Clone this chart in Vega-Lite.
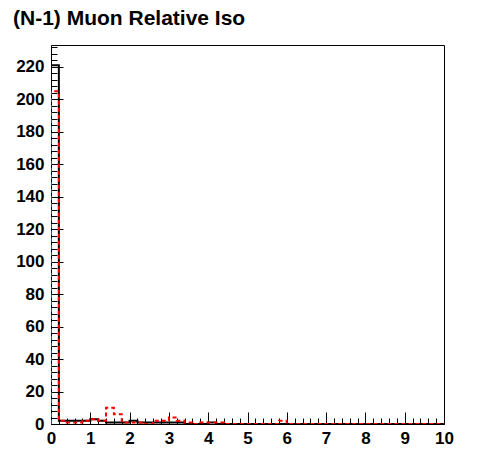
{
  "$schema": "https://vega.github.io/schema/vega-lite/v6.json",
  "width": 393,
  "height": 379,
  "autosize": "none",
  "padding": {"left": 51, "top": 45, "right": 52, "bottom": 48},
  "background": "white",
  "config": {"view": {"stroke": "black", "strokeWidth": 1}},
  "title": {"text": "(N-1) Muon Relative Iso", "anchor": "start", "frame": "group", "font": "Liberation Sans", "fontSize": 21, "fontWeight": "bold", "color": "black", "dx": -38, "offset": 9},
  "data": {"values": [
    {"s":"A","i":0,"x":0,"y":0},{"s":"A","i":1,"x":0,"y":221},{"s":"A","i":2,"x":0.2,"y":2},{"s":"A","i":3,"x":0.4,"y":2},{"s":"A","i":4,"x":0.6,"y":2},{"s":"A","i":5,"x":0.8,"y":2},{"s":"A","i":6,"x":1,"y":3},{"s":"A","i":7,"x":1.2,"y":2},{"s":"A","i":8,"x":1.4,"y":1},{"s":"A","i":9,"x":1.6,"y":1},{"s":"A","i":10,"x":1.8,"y":1},{"s":"A","i":11,"x":2,"y":2},{"s":"A","i":12,"x":2.2,"y":1},{"s":"A","i":13,"x":2.4,"y":1},{"s":"A","i":14,"x":2.6,"y":1},{"s":"A","i":15,"x":2.8,"y":1},{"s":"A","i":16,"x":3,"y":1},{"s":"A","i":17,"x":3.2,"y":1},{"s":"A","i":18,"x":3.4,"y":0},{"s":"A","i":19,"x":3.6,"y":0},{"s":"A","i":20,"x":3.8,"y":0},{"s":"A","i":21,"x":4,"y":1},{"s":"A","i":22,"x":4.2,"y":0},{"s":"A","i":23,"x":4.4,"y":0},{"s":"A","i":24,"x":4.6,"y":0},{"s":"A","i":25,"x":4.8,"y":0},{"s":"A","i":26,"x":5,"y":0},{"s":"A","i":27,"x":5.2,"y":0},{"s":"A","i":28,"x":5.4,"y":0},{"s":"A","i":29,"x":5.6,"y":0},{"s":"A","i":30,"x":5.8,"y":0},{"s":"A","i":31,"x":6,"y":0},{"s":"A","i":32,"x":6.2,"y":0},{"s":"A","i":33,"x":6.4,"y":0},{"s":"A","i":34,"x":6.6,"y":0},{"s":"A","i":35,"x":6.8,"y":0},{"s":"A","i":36,"x":7,"y":0},{"s":"A","i":37,"x":7.2,"y":0},{"s":"A","i":38,"x":7.4,"y":0},{"s":"A","i":39,"x":7.6,"y":0},{"s":"A","i":40,"x":7.8,"y":0},{"s":"A","i":41,"x":8,"y":0},{"s":"A","i":42,"x":8.2,"y":0},{"s":"A","i":43,"x":8.4,"y":0},{"s":"A","i":44,"x":8.6,"y":0},{"s":"A","i":45,"x":8.8,"y":0},{"s":"A","i":46,"x":9,"y":0},{"s":"A","i":47,"x":9.2,"y":0},{"s":"A","i":48,"x":9.4,"y":0},{"s":"A","i":49,"x":9.6,"y":0},{"s":"A","i":50,"x":9.8,"y":0},{"s":"A","i":51,"x":10,"y":0},
    {"s":"B","i":0,"x":0,"y":0},{"s":"B","i":1,"x":0,"y":205},{"s":"B","i":2,"x":0.2,"y":2},{"s":"B","i":3,"x":0.4,"y":1},{"s":"B","i":4,"x":0.6,"y":1},{"s":"B","i":5,"x":0.8,"y":2},{"s":"B","i":6,"x":1,"y":3},{"s":"B","i":7,"x":1.2,"y":2},{"s":"B","i":8,"x":1.4,"y":10},{"s":"B","i":9,"x":1.6,"y":6},{"s":"B","i":10,"x":1.8,"y":1},{"s":"B","i":11,"x":2,"y":1},{"s":"B","i":12,"x":2.2,"y":1},{"s":"B","i":13,"x":2.4,"y":0},{"s":"B","i":14,"x":2.6,"y":2},{"s":"B","i":15,"x":2.8,"y":2},{"s":"B","i":16,"x":3,"y":4},{"s":"B","i":17,"x":3.2,"y":2},{"s":"B","i":18,"x":3.4,"y":1},{"s":"B","i":19,"x":3.6,"y":0},{"s":"B","i":20,"x":3.8,"y":1},{"s":"B","i":21,"x":4,"y":1},{"s":"B","i":22,"x":4.2,"y":1},{"s":"B","i":23,"x":4.4,"y":0},{"s":"B","i":24,"x":4.6,"y":0},{"s":"B","i":25,"x":4.8,"y":0},{"s":"B","i":26,"x":5,"y":0},{"s":"B","i":27,"x":5.2,"y":0},{"s":"B","i":28,"x":5.4,"y":0},{"s":"B","i":29,"x":5.6,"y":0},{"s":"B","i":30,"x":5.8,"y":2},{"s":"B","i":31,"x":6,"y":0},{"s":"B","i":32,"x":6.2,"y":0},{"s":"B","i":33,"x":6.4,"y":0},{"s":"B","i":34,"x":6.6,"y":0},{"s":"B","i":35,"x":6.8,"y":0},{"s":"B","i":36,"x":7,"y":0},{"s":"B","i":37,"x":7.2,"y":0},{"s":"B","i":38,"x":7.4,"y":0},{"s":"B","i":39,"x":7.6,"y":0},{"s":"B","i":40,"x":7.8,"y":0},{"s":"B","i":41,"x":8,"y":0},{"s":"B","i":42,"x":8.2,"y":0},{"s":"B","i":43,"x":8.4,"y":0},{"s":"B","i":44,"x":8.6,"y":0},{"s":"B","i":45,"x":8.8,"y":0},{"s":"B","i":46,"x":9,"y":0},{"s":"B","i":47,"x":9.2,"y":0},{"s":"B","i":48,"x":9.4,"y":0},{"s":"B","i":49,"x":9.6,"y":0},{"s":"B","i":50,"x":9.8,"y":0},{"s":"B","i":51,"x":10,"y":0}
  ]},
  "encoding": {
    "x": {"field": "x", "type": "quantitative", "scale": {"domain": [0, 10], "nice": false, "zero": false},
      "axis": {"title": null, "values": [0,0.2,0.4,0.6,0.8,1,1.2,1.4,1.6,1.8,2,2.2,2.4,2.6,2.8,3,3.2,3.4,3.6,3.8,4,4.2,4.4,4.6,4.8,5,5.2,5.4,5.6,5.8,6,6.2,6.4,6.6,6.8,7,7.2,7.4,7.6,7.8,8,8.2,8.4,8.6,8.8,9,9.2,9.4,9.6,9.8,10],
        "tickSize": {"condition": {"test": "abs(datum.value - round(datum.value)) < 0.01", "value": -12}, "value": -6},
        "labelExpr": "abs(datum.value - round(datum.value)) < 0.01 ? format(datum.value, 'd') : ''",
        "labelFont": "Liberation Sans", "labelFontWeight": "bold", "labelFontSize": 17, "labelColor": "black",
        "labelPadding": 18, "labelFlush": false, "labelOverlap": false, "labelBound": false,
        "tickColor": "black", "domainColor": "black", "grid": false}},
    "y": {"field": "y", "type": "quantitative", "scale": {"domain": [0, 233.5], "nice": false},
      "axis": {"title": null, "values": [0,4,8,12,16,20,24,28,32,36,40,44,48,52,56,60,64,68,72,76,80,84,88,92,96,100,104,108,112,116,120,124,128,132,136,140,144,148,152,156,160,164,168,172,176,180,184,188,192,196,200,204,208,212,216,220,224,228,232],
        "tickSize": {"condition": {"test": "datum.value % 20 === 0", "value": -12}, "value": -6},
        "labelExpr": "datum.value % 20 === 0 ? datum.label : ''",
        "labelFont": "Liberation Sans", "labelFontWeight": "bold", "labelFontSize": 17, "labelColor": "black",
        "labelPadding": 19, "labelFlush": false, "labelOverlap": false, "labelBound": false,
        "tickColor": "black", "domainColor": "black", "grid": false}},
    "order": {"field": "i", "type": "quantitative"}
  },
  "layer": [
    {"transform": [{"filter": "datum.s === 'A'"}], "mark": {"type": "line", "interpolate": "step-after", "color": "black", "strokeWidth": 2, "clip": true}},
    {"transform": [{"filter": "datum.s === 'B'"}], "mark": {"type": "line", "interpolate": "step-after", "color": "#ff0000", "strokeWidth": 2, "strokeDash": [4, 3], "clip": true}}
  ]
}
